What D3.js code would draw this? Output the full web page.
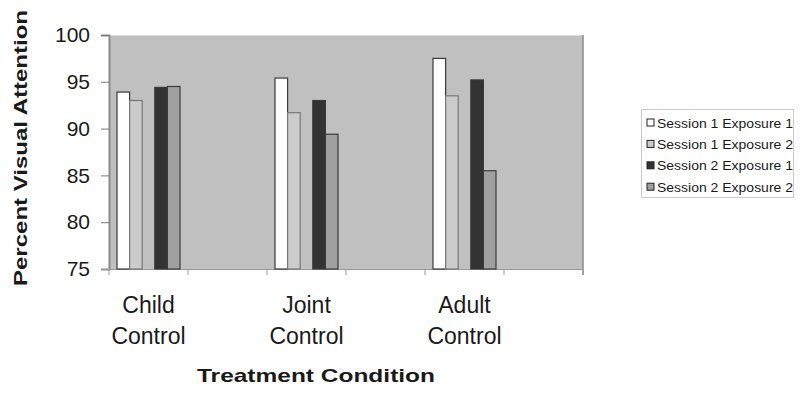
<!DOCTYPE html>
<html>
<head>
<meta charset="utf-8">
<script src="https://cdn.jsdelivr.net/npm/d3@7"></script>
<style>
  body { margin: 0; background: #fff; }
  text { font-family: "Liberation Sans", Arial, sans-serif; fill: #1a1a1a; }
</style>
</head>
<body>
<svg width="802" height="394"></svg>
<script>
// chart values
const categories = ['Child Control', 'Joint Control', 'Adult Control'];
const seriesNames = ['Session 1 Exposure 1', 'Session 1 Exposure 2', 'Session 2 Exposure 1', 'Session 2 Exposure 2'];
const s1e1 = [93.9, 95.4, 97.5];
const s1e2 = [93.0, 91.7, 93.5];
const s2e1 = [94.4, 93.0, 95.2];
const s2e2 = [94.5, 89.4, 85.5];
const yTicks = [75, 80, 85, 90, 95, 100];

const fills = ['#ffffff', '#cbcbcb', '#333333', '#a0a0a0'];

const svg = d3.select('svg');
const plot = { left: 109, right: 583, top: 35, bottom: 269 };

const series = [s1e1, s1e2, s2e1, s2e2];

// 6 slots along x, categories sit on every other one
const xSlot = d3.scaleBand()
    .domain(d3.range(6))
    .range([plot.left, plot.right]);

// 5 sub-slots inside a slot, middle one is left empty
const xSub = d3.scaleBand()
    .domain(d3.range(5))
    .range([8, xSlot.bandwidth() - 8]);
const subIndex = [0, 1, 3, 4];

const yScale = d3.scaleLinear()
    .domain([75, 100])
    .range([plot.bottom, plot.top]);

// plot background
svg.append('rect')
    .attr('x', plot.left).attr('y', plot.top)
    .attr('width', plot.right - plot.left)
    .attr('height', plot.bottom - plot.top)
    .attr('fill', '#c0c0c0');
svg.append('line')
    .attr('x1', plot.left).attr('x2', plot.right)
    .attr('y1', plot.top + 0.5).attr('y2', plot.top + 0.5)
    .attr('stroke', '#d8d8d8');
svg.append('line')
    .attr('x1', plot.right).attr('x2', plot.right)
    .attr('y1', plot.top).attr('y2', plot.bottom + 6)
    .attr('stroke', '#8a8a8a').attr('stroke-width', 1.5);

// y axis
const yAxis = d3.axisLeft(yScale)
    .tickValues(yTicks)
    .tickSize(8)
    .tickPadding(11);
const yg = svg.append('g')
    .attr('transform', `translate(${plot.left},0)`)
    .call(yAxis);
yg.select('.domain').attr('stroke', '#8a8a8a').attr('stroke-width', 2);
yg.selectAll('.tick line').attr('stroke', '#777');
yg.selectAll('.tick text')
    .attr('font-size', 21)
    .attr('fill', '#222')
    .attr('font-family', '"Liberation Sans", Arial, sans-serif');

// x axis line + ticks at slot boundaries
svg.append('line')
    .attr('x1', plot.left - 8).attr('x2', plot.right)
    .attr('y1', plot.bottom + 0.5).attr('y2', plot.bottom + 0.5)
    .attr('stroke', '#999');
svg.selectAll('.xtick')
    .data(d3.range(7))
    .enter().append('line')
    .attr('class', 'xtick')
    .attr('x1', d => plot.left + d * xSlot.step())
    .attr('x2', d => plot.left + d * xSlot.step())
    .attr('y1', plot.bottom).attr('y2', plot.bottom + 6)
    .attr('stroke', '#999');

// bars
series.forEach((vals, si) => {
    svg.selectAll('.bar' + si)
        .data(vals)
        .enter().append('rect')
        .attr('class', 'bar' + si)
        .attr('x', (d, i) => xSlot(i * 2) + xSub(subIndex[si]))
        .attr('y', d => yScale(d))
        .attr('width', xSub.bandwidth())
        .attr('height', d => plot.bottom - yScale(d))
        .attr('fill', fills[si])
        .attr('stroke', si === 1 ? '#777' : '#3a3a3a')
        .attr('stroke-width', 1.2);
});

// category labels, two lines each
categories.forEach((c, i) => {
    const cx = xSlot(i * 2) + xSlot.bandwidth() / 2;
    const words = c.split(' ');
    words.forEach((w, j) => {
        svg.append('text')
            .attr('x', cx)
            .attr('y', 313 + j * 31)
            .attr('text-anchor', 'middle')
            .attr('font-size', 23)
            .text(w);
    });
});

// axis titles
svg.append('text')
    .attr('x', 316).attr('y', 382)
    .attr('text-anchor', 'middle')
    .attr('font-size', 19)
    .attr('font-weight', 'bold')
    .attr('textLength', 238)
    .attr('lengthAdjust', 'spacingAndGlyphs')
    .text('Treatment Condition');

svg.append('text')
    .attr('transform', 'translate(27,148) rotate(-90)')
    .attr('text-anchor', 'middle')
    .attr('font-size', 19)
    .attr('font-weight', 'bold')
    .attr('textLength', 276)
    .attr('lengthAdjust', 'spacingAndGlyphs')
    .text('Percent Visual Attention');

// legend
const legend = svg.append('g').attr('transform', 'translate(641,109)');
legend.append('rect')
    .attr('x', 0.5).attr('y', 0.5)
    .attr('width', 152).attr('height', 88)
    .attr('fill', '#fff')
    .attr('stroke', '#999')
    .attr('stroke-dasharray', '1,1');
const items = legend.selectAll('.item')
    .data(seriesNames)
    .enter().append('g')
    .attr('class', 'item')
    .attr('transform', (d, i) => `translate(0,${14 + i * 21.4})`);
items.append('rect')
    .attr('x', 6).attr('y', -4)
    .attr('width', 7).attr('height', 7)
    .attr('fill', (d, i) => fills[i])
    .attr('stroke', '#222');
items.append('text')
    .attr('x', 16).attr('y', 4.5)
    .attr('font-size', 12)
    .attr('textLength', 136)
    .attr('lengthAdjust', 'spacingAndGlyphs')
    .text(d => d);
</script>
</body>
</html>
